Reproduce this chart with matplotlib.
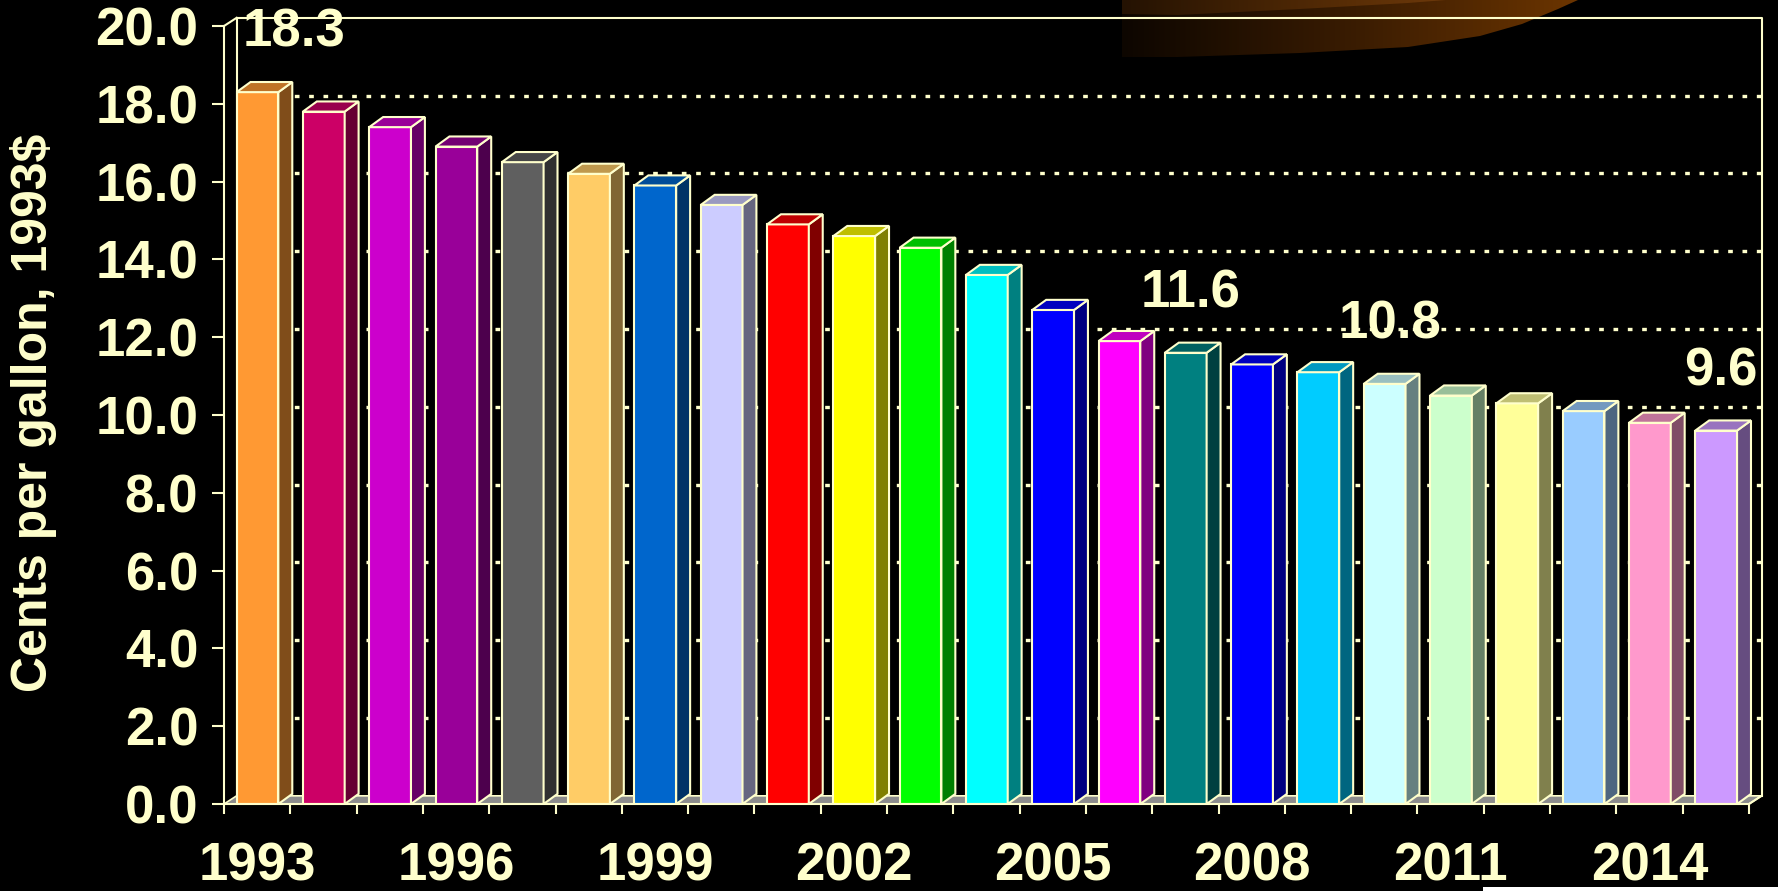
import numpy as np
import matplotlib
matplotlib.use("Agg")
import matplotlib.pyplot as plt
from matplotlib.patches import Polygon, Rectangle
from matplotlib.colors import to_rgb, LinearSegmentedColormap

# data
years = list(range(1993, 2016))
cents = [18.3, 17.8, 17.4, 16.9, 16.5, 16.2, 15.9, 15.4, 14.9, 14.6, 14.3, 13.6,
         12.7, 11.9, 11.6, 11.3, 11.1, 10.8, 10.5, 10.3, 10.1, 9.8, 9.6]
bar_colors = ["#FF9933", "#CC0066", "#CC00CC", "#990099", "#5F5F5F", "#FFCC66",
              "#0066CC", "#CCCCFF", "#FF0000", "#FFFF00", "#00FF00", "#00FFFF",
              "#0000FF", "#FF00FF", "#008080", "#0000FF", "#00CCFF", "#CCFFFF",
              "#CCFFCC", "#FFFF99", "#99CCFF", "#FF99CC", "#CC99FF"]
tick_years = [1993, 1996, 1999, 2002, 2005, 2008, 2011, 2014]
labeled_years = [1993, 2007, 2010, 2015]
label_nudge = {1993: 0.47}
yticks = np.arange(0, 20.1, 2)
ylabel = "Cents per gallon, 1993$"

CREAM = "#FFFFCC"
BAR_DX, BAR_DY = 0.21, 0.26     # 3d depth of the bars (data units)
WALL_DX, WALL_DY = 0.19, 0.21   # 3d depth of walls / floor
BAR_OFF, BAR_W = 0.19, 0.63

plt.rcParams["font.family"] = ["Liberation Sans", "DejaVu Sans"]
plt.rcParams["font.weight"] = "bold"


def shade(c, f):
    r, g, b = to_rgb(c)
    return (r * f, g * f, b * f)


fig = plt.figure(figsize=(17.78, 8.91), dpi=100, facecolor="black")

# decorative swoosh from the slide background (figure pixel coords)
deco = fig.add_axes([0, 0, 1, 1], zorder=-1)
deco.axis("off")
grad = np.linspace(0, 1, 256).reshape(1, -1)
cm_low = LinearSegmentedColormap.from_list("low", ["#0d0600", "#3a1c02", "#6e3600"])
cm_up = LinearSegmentedColormap.from_list("up", ["#241202", "#5a2e06", "#8a4a12"])
low = Polygon([(1122, 0), (1122, 57), (1178, 57), (1300, 53), (1408, 47), (1480, 36),
               (1522, 24), (1558, 9), (1578, 0)], closed=True, facecolor="none",
              edgecolor="none", transform=deco.transData)
deco.add_patch(low)
im = deco.imshow(grad, cmap=cm_low, extent=[1122, 1590, 60, 0], aspect="auto")
im.set_clip_path(low)
up = Polygon([(1122, 0), (1122, 14), (1178, 15), (1300, 9), (1408, 3), (1446, 0)],
             closed=True, facecolor="none", edgecolor="none", transform=deco.transData)
deco.add_patch(up)
im2 = deco.imshow(grad, cmap=cm_up, extent=[1122, 1590, 60, 0], aspect="auto")
im2.set_clip_path(up)
deco.add_patch(Rectangle((1483, 887), 295, 4, facecolor="white", edgecolor="none"))
deco.set_xlim(0, 1778)
deco.set_ylim(891, 0)

ax = fig.add_axes([224 / 1778, 87 / 891, 1525 / 1778, 778 / 891])
ax.set_facecolor("none")
n = len(years)
ax.set_xlim(0, n)
ax.set_ylim(0, 20)

# floor and back wall
ax.add_patch(Polygon([(0, 0), (n, 0), (n + WALL_DX, WALL_DY), (WALL_DX, WALL_DY)],
                     closed=True, facecolor="#8C8C8C", edgecolor=CREAM, lw=1.2,
                     zorder=1, clip_on=False))
for y in yticks[1:-1]:
    ax.plot([WALL_DX, n + WALL_DX], [y + WALL_DY] * 2, color=CREAM, lw=2.4,
            linestyle=(0, (1.4, 2.9)), zorder=1, clip_on=False)
ax.plot([WALL_DX, n + WALL_DX, n + WALL_DX], [20 + WALL_DY, 20 + WALL_DY, WALL_DY],
        color=CREAM, lw=1.5, zorder=1, clip_on=False)
ax.plot([WALL_DX, WALL_DX], [WALL_DY, 20 + WALL_DY], color=CREAM, lw=1.5,
        zorder=1, clip_on=False)
ax.plot([0, WALL_DX], [20, 20 + WALL_DY], color=CREAM, lw=1.5, zorder=1, clip_on=False)
ax.plot([n, n + WALL_DX], [0, WALL_DY], color=CREAM, lw=1.5, zorder=1, clip_on=False)

# bars: front face, side and top
idx = np.arange(n)
ax.bar(idx + BAR_OFF, cents, width=BAR_W, align="edge", color=bar_colors,
       edgecolor=CREAM, linewidth=1.5, zorder=3)
for i, (v, c) in enumerate(zip(cents, bar_colors)):
    x0 = i + BAR_OFF
    x1 = x0 + BAR_W
    side = [(x1, 0), (x1 + BAR_DX, BAR_DY), (x1 + BAR_DX, v + BAR_DY), (x1, v)]
    top = [(x0, v), (x1, v), (x1 + BAR_DX, v + BAR_DY), (x0 + BAR_DX, v + BAR_DY)]
    ax.add_patch(Polygon(side, closed=True, facecolor=shade(c, 0.5), edgecolor=CREAM,
                         lw=1.5, zorder=3, clip_on=False))
    ax.add_patch(Polygon(top, closed=True, facecolor=shade(c, 0.75), edgecolor=CREAM,
                         lw=1.5, zorder=3, clip_on=False))

for yr in labeled_years:
    i = years.index(yr)
    v = cents[i]
    ax.text(i + 0.58 + label_nudge.get(yr, 0), v + 1.53, f"{v:.1f}", ha="center",
            va="center", fontsize=38, color=CREAM, fontweight="bold", zorder=5)

# axes styling
for s in ["top", "right"]:
    ax.spines[s].set_visible(False)
for s in ["left", "bottom"]:
    ax.spines[s].set_color(CREAM)
    ax.spines[s].set_linewidth(1.5)
    ax.spines[s].set_zorder(4)

ax.set_yticks(yticks)
ax.set_yticklabels([f"{t:.1f}" for t in yticks])
ax.tick_params(axis="y", direction="out", length=8.6, width=1.5, color=CREAM,
               labelcolor=CREAM, labelsize=38, pad=10)
ax.set_xticks([years.index(y) + 0.5 for y in tick_years])
ax.set_xticklabels([str(y) for y in tick_years])
ax.set_xticks(np.arange(n + 1), minor=True)
ax.tick_params(axis="x", which="major", length=0, labelcolor=CREAM, labelsize=38, pad=27)
ax.tick_params(axis="x", which="minor", direction="out", length=7.2, width=1.5,
               color=CREAM)

fig.text(34 / 1778, 1 - 413 / 891, ylabel, rotation=90, ha="center", va="center",
         fontsize=36, color=CREAM, fontweight="bold")

fig.savefig("out.png", dpi=100, facecolor="black")
